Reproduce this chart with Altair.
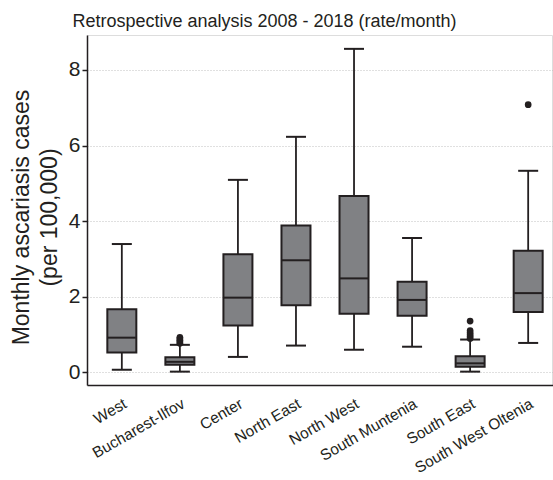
import altair as alt
import pandas as pd

categories = ["West", "Bucharest-Ilfov", "Center", "North East", "North West",
              "South Muntenia", "South East", "South West Oltenia"]
lower = [0.06, 0.01, 0.40, 0.70, 0.59, 0.67, 0.01, 0.77]
q1 = [0.52, 0.19, 1.23, 1.77, 1.54, 1.49, 0.14, 1.59]
median = [0.91, 0.27, 1.97, 2.96, 2.48, 1.91, 0.23, 2.09]
q3 = [1.66, 0.39, 3.12, 3.88, 4.66, 2.39, 0.42, 3.21]
upper = [3.39, 0.72, 5.09, 6.23, 8.56, 3.55, 0.86, 5.33]

outlier_region = ["Bucharest-Ilfov"] * 5 + ["South East"] * 6 + ["South West Oltenia"]
outlier_value = [0.76, 0.80, 0.84, 0.88, 0.92,
                 0.89, 0.94, 0.99, 1.04, 1.10, 1.35,
                 7.08]

y_ticks = [0, 2, 4, 6, 8]

df = pd.DataFrame({"region": categories, "lower": lower, "q1": q1,
                   "median": median, "q3": q3, "upper": upper})
odf = pd.DataFrame({"region": outlier_region, "value": outlier_value})

DARK = "#231f20"
GRAY = "#808184"
FONT = "Liberation Sans"

xscale = alt.Scale(domain=categories, range=[0, 476], paddingInner=0, paddingOuter=0.1)
yscale = alt.Scale(domain=[-0.344, 8.927], nice=False, zero=False)

xaxis = alt.Axis(title=None, labelAngle=330, labelAlign="right", labelBaseline="top",
                 labelFontSize=15.5, labelFont=FONT, labelColor=DARK, labelPadding=11,
                 ticks=False, domainColor=DARK, domainWidth=1.5, grid=False,
                 labelOverlap=False)
yaxis = alt.Axis(title=["Monthly ascariasis cases", "(per 100,000)"],
                 titleFontSize=23, titleFont=FONT, titleFontWeight="normal",
                 titleColor=DARK, titleAngle=270, titleX=-59, titleY=182,
                 titleAlign="center", titleBaseline="alphabetic", titleLineHeight=28,
                 values=y_ticks, labelFontSize=21, labelFont=FONT, labelColor=DARK,
                 tickSize=5, tickColor=DARK, tickWidth=1.5, labelPadding=2,
                 domainColor=DARK, domainWidth=1.5, grid=True, gridDash=[1, 2],
                 gridColor="#b0b0b0", gridWidth=0.8)

X = alt.X("region:N", scale=xscale, axis=xaxis, sort=categories)

base = alt.Chart(df)

whisker = base.mark_rule(color=DARK, strokeWidth=1.8).encode(
    x=X, y=alt.Y("lower:Q", scale=yscale, axis=yaxis), y2="upper:Q")
box = base.mark_bar(size=29, fill=GRAY, stroke=DARK, strokeWidth=2).encode(
    x=X, y=alt.Y("q1:Q", scale=yscale, axis=yaxis), y2="q3:Q")
med = base.mark_tick(orient="horizontal", size=28, thickness=2, color=DARK, opacity=1).encode(
    x=X, y=alt.Y("median:Q", scale=yscale, axis=yaxis))
cap_lo = base.mark_tick(orient="horizontal", size=20, thickness=2, color=DARK, opacity=1).encode(
    x=X, y=alt.Y("lower:Q", scale=yscale, axis=yaxis))
cap_hi = base.mark_tick(orient="horizontal", size=20, thickness=2, color=DARK, opacity=1).encode(
    x=X, y=alt.Y("upper:Q", scale=yscale, axis=yaxis))
outl = alt.Chart(odf).mark_circle(size=45, color=DARK, opacity=1).encode(
    x=X, y=alt.Y("value:Q", scale=yscale, axis=yaxis))

chart = alt.layer(whisker, box, med, cap_lo, cap_hi, outl).properties(
    width=465, height=350,
    title=alt.TitleParams(text="Retrospective analysis 2008 - 2018 (rate/month)",
                          fontSize=18, font=FONT, fontWeight="normal", color=DARK,
                          anchor="middle", dx=-55, dy=20, offset=10, baseline="alphabetic"),
    autosize=alt.AutoSizeParams(type="none"),
    padding={"left": 87, "top": 35, "right": 1, "bottom": 95},
).configure_view(stroke=None).configure(background="white")

chart.save("out.html", embed_options={"renderer": "svg", "actions": False})
